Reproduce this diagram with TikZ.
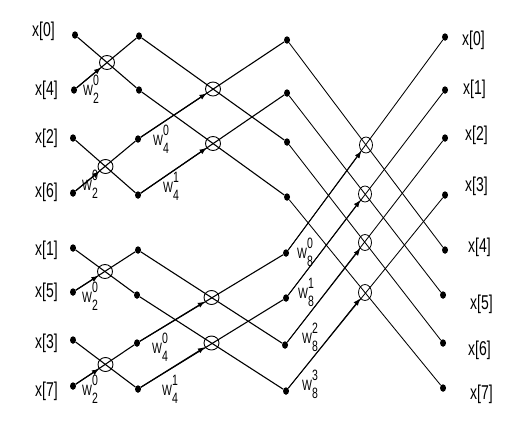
\documentclass[tikz,border=0pt]{standalone}
\usepackage{fontspec}
\newfontfamily\narrowsf[FakeStretch=0.7]{Liberation Sans}
\usetikzlibrary{calc,arrows.meta,shapes.geometric}
\newcommand{\tw}[2]{W\rlap{\raisebox{10pt}{#1}}\raisebox{-8pt}{#2}}

\begin{document}
\begin{tikzpicture}[x=1pt,y=-1pt,
  sd/.style={ellipse, fill=black, inner sep=0pt, minimum width=6pt, minimum height=7.5pt},
  bf/.style={ellipse, draw, line width=0.9pt, inner sep=0pt, minimum width=15pt, minimum height=14pt},
  bf3/.style={bf, line width=0.8pt, minimum width=13pt, minimum height=16pt},
  xl/.style={font=\narrowsf\fontsize{20}{20}\selectfont, inner sep=0pt},
  wl/.style={font=\narrowsf\fontsize{15}{15}\selectfont, inner sep=0pt, anchor=base west},
  wire/.style={line width=1.1pt},
  wire3/.style={line width=0.85pt},
  >={Latex[length=7pt,width=5.5pt]},
]
\path[fill=white] (0,0) rectangle (526,432);

% ---- sample points: inputs, stage 1, stage 2, outputs ----
\node[sd] (i0) at (75,35) {};  \node[sd] (i1) at (74,90) {};
\node[sd] (i2) at (73,138) {}; \node[sd] (i3) at (73,193) {};
\node[sd] (i4) at (73,248) {}; \node[sd] (i5) at (73,292) {};
\node[sd] (i6) at (73,340) {}; \node[sd] (i7) at (73,386) {};

\node[sd] (a0) at (139,36) {};  \node[sd] (a1) at (139,90) {};
\node[sd] (a2) at (138,139) {}; \node[sd] (a3) at (138,195) {};
\node[sd] (a4) at (138,250) {}; \node[sd] (a5) at (137,295) {};
\node[sd] (a6) at (137,343) {}; \node[sd] (a7) at (138,389) {};

\node[sd] (b0) at (287,40) {};  \node[sd] (b1) at (287,93) {};
\node[sd] (b2) at (287,142) {}; \node[sd] (b3) at (287,197) {};
\node[sd] (b4) at (286,253) {}; \node[sd] (b5) at (286,298) {};
\node[sd] (b6) at (285,345) {}; \node[sd] (b7) at (286,391) {};

\node[sd] (o0) at (445,37) {};  \node[sd] (o1) at (445,90) {};
\node[sd] (o2) at (445,138) {}; \node[sd] (o3) at (445,195) {};
\node[sd] (o4) at (445,250) {}; \node[sd] (o5) at (443,295) {};
\node[sd] (o6) at (443,343) {}; \node[sd] (o7) at (443,388) {};

% ---- labels ----
\node[xl, anchor=east] (li0) at (55,31) {x[0]};
\node[xl, anchor=east] (li1) at (58,90) {x[4]};
\node[xl, anchor=east] (li2) at (58,138) {x[2]};
\node[xl, anchor=east] (li3) at (58,192) {x[6]};
\node[xl, anchor=east] (li4) at (58,250) {x[1]};
\node[xl, anchor=east] (li5) at (58,292) {x[5]};
\node[xl, anchor=east] (li6) at (58,343) {x[3]};
\node[xl, anchor=east] (li7) at (58,391) {x[7]};

\node[xl, anchor=west] (lo0) at (462,40) {x[0]};
\node[xl, anchor=west] (lo1) at (463,89) {x[1]};
\node[xl, anchor=west] (lo2) at (465,135) {x[2]};
\node[xl, anchor=west] (lo3) at (465,186) {x[3]};
\node[xl, anchor=west] (lo4) at (468,247) {x[4]};
\node[xl, anchor=west] (lo5) at (470,304) {x[5]};
\node[xl, anchor=west] (lo6) at (468,350) {x[6]};
\node[xl, anchor=west] (lo7) at (470,394) {x[7]};

% ---- stage 1: 2-point butterflies ----
\draw[wire] (i0) -- (a1); \draw[wire] (i1) -- (a0);
\draw[wire] (i2) -- (a3); \draw[wire] (i3) -- (a2);
\draw[wire] (i4) -- (a5); \draw[wire] (i5) -- (a4);
\draw[wire] (i6) -- (a7); \draw[wire] (i7) -- (a6);
\node[bf] (p01) at ($(i0)!.5!(a1)$) {};
\node[bf] (p23) at ($(i2)!.5!(a3)$) {};
\node[bf] (p45) at ($(i4)!.5!(a5)$) {};
\node[bf] (p67) at ($(i6)!.5!(a7)$) {};
\draw[wire,->] (i1) -- (p01); \draw[wire,->] (i3) -- (p23);
\draw[wire,->] (i5) -- (p45); \draw[wire,->] (i7) -- (p67);
\node[wl] (w1) at (83,95) {\tw{0}{2}};
\node[wl] (w3) at (82,190) {\tw{0}{2}};
\node[wl] (w5) at (82,302) {\tw{0}{2}};
\node[wl] (w7) at (82,395) {\tw{0}{2}};

% ---- stage 2: 4-point butterflies ----
\draw[wire] (a0) -- (b2); \draw[wire] (a2) -- (b0);
\draw[wire] (a1) -- (b3); \draw[wire] (a3) -- (b1);
\draw[wire] (a4) -- (b6); \draw[wire] (a6) -- (b4);
\draw[wire] (a5) -- (b7); \draw[wire] (a7) -- (b5);
\node[bf] (q02) at ($(a0)!.5!(b2)$) {};
\node[bf] (q13) at ($(a1)!.5!(b3)$) {};
\node[bf] (q46) at ($(a4)!.5!(b6)$) {};
\node[bf] (q57) at ($(a5)!.5!(b7)$) {};
\draw[wire,->] (a2) -- (q02); \draw[wire,->] (a3) -- (q13);
\draw[wire,->] (a6) -- (q46); \draw[wire,->] (a7) -- (q57);
\node[wl] (v2) at (153,145) {\tw{0}{4}};
\node[wl] (v3) at (163,192) {\tw{1}{4}};
\node[wl] (v6) at (152,353) {\tw{0}{4}};
\node[wl] (v7) at (162,395) {\tw{1}{4}};

% ---- stage 3: 8-point butterflies ----
\draw[wire3] (b0) -- (o4); \draw[wire3] (b4) -- (o0);
\draw[wire3] (b1) -- (o5); \draw[wire3] (b5) -- (o1);
\draw[wire3] (b2) -- (o6); \draw[wire3] (b6) -- (o2);
\draw[wire3] (b3) -- (o7); \draw[wire3] (b7) -- (o3);
\node[bf3] (r04) at ($(b0)!.5!(o4)$) {};
\node[bf3] (r15) at ($(b1)!.5!(o5)$) {};
\node[bf3] (r26) at ($(b2)!.5!(o6)$) {};
\node[bf3] (r37) at ($(b3)!.5!(o7)$) {};
\draw[wire3,->] (b4) -- (r04); \draw[wire3,->] (b5) -- (r15);
\draw[wire3,->] (b6) -- (r26); \draw[wire3,->] (b7) -- (r37);
\node[wl] (u4) at (297,258) {\tw{0}{8}};
\node[wl] (u5) at (298,298) {\tw{1}{8}};
\node[wl] (u6) at (302,343) {\tw{2}{8}};
\node[wl] (u7) at (302,390) {\tw{3}{8}};
\end{tikzpicture}
\end{document}
